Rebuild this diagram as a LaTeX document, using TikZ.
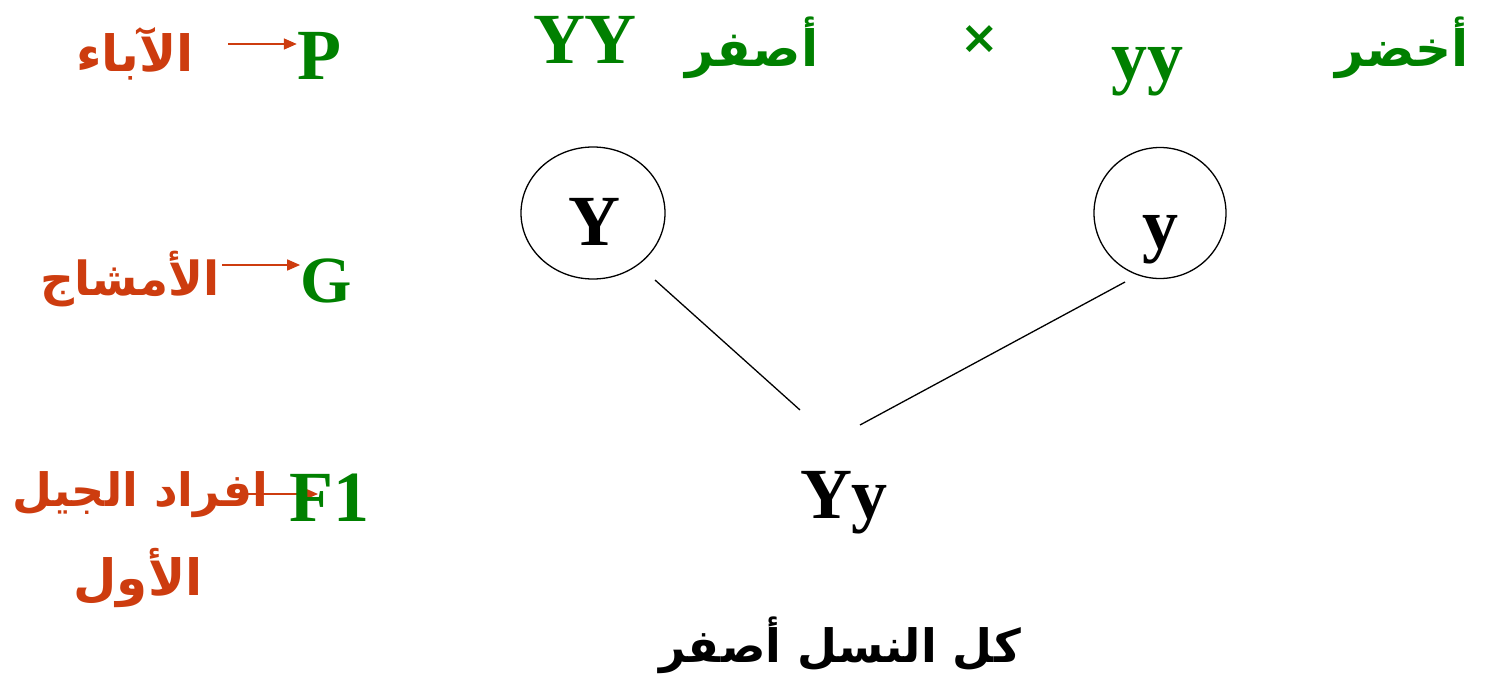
\documentclass[tikz,border=0pt]{standalone}
\usepackage{fontspec}
\setmainfont{Liberation Serif}
\newfontfamily\arabicfont[Script=Arabic]{DejaVu Sans}
\TeXXeTstate=1
\usetikzlibrary{arrows.meta,shapes.geometric}
\definecolor{lblred}{RGB}{205,60,15}
\definecolor{gengreen}{RGB}{0,128,0}
\tikzset{
  latin/.style={font=\fontsize{72}{80}\selectfont\bfseries, inner sep=0pt},
  ar/.style={font=\fontsize{50}{60}\selectfont\arabicfont\bfseries, inner sep=0pt, align=center},
  arsmall/.style={ar, font=\fontsize{47}{60}\selectfont\arabicfont\bfseries},
  redarrow/.style={draw=lblred, line width=1.6pt, -{Triangle[length=13pt,width=11pt]}},
  gamete/.style={ellipse, draw=black, line width=1.3pt, inner sep=0pt},
  link/.style={draw=black, line width=1.3pt}
}
\begin{document}
\begin{tikzpicture}[x=1pt,y=-1pt]
\useasboundingbox (0,0) rectangle (1485,683);
% left labels
\node[latin, text=gengreen] (P) at (319,56) {P};
\node[ar, text=lblred] (parents) at (135,54) {\beginR الآباء\endR};
\coordinate (pa) at (228,44);
\draw[redarrow] (pa) -- (P.west |- pa);

\node[latin, text=gengreen, font=\fontsize{66}{72}\selectfont\bfseries] (G) at (326,281) {G};
\node[arsmall, text=lblred] (gametes) at (130,279) {\beginR الأمشاج\endR};
\coordinate (ga) at (222,265);
\draw[redarrow] (ga) -- (G.west |- ga);

\node[arsmall, font=\fontsize{46}{60}\selectfont\arabicfont\bfseries, text=lblred] (f1a) at (140,495) {\beginR افراد الجيل\endR};
\node[ar, text=lblred] (f1b) at (138,578) {\beginR الأول\endR};
\coordinate (fa) at (245,494);
\coordinate (fb) at (318,494);
\draw[redarrow] (fa) -- (fb);
\node[latin, text=gengreen] (F1) at (329,498) {F1};

% parents row
\node[latin, text=gengreen] (YY) at (585,40) {YY};
\node[ar, text=gengreen] (yellow) at (752,48) {\beginR أصفر\endR};
\node[font=\fontsize{46}{50}\selectfont\arabicfont\bfseries, text=gengreen, inner sep=0pt] (cross) at (980,40) {×};
\node[latin, text=gengreen] (yy) at (1147,72) {yy};
\node[ar, text=gengreen] (green) at (1402,48) {\beginR أخضر\endR};

% gametes
\node[gamete, minimum width=144pt, minimum height=132pt] (cY) at (593,213) {};
\node[latin] (Yg) at (594,222) {Y};
\node[gamete, minimum width=132pt, minimum height=131pt] (cy) at (1160,213) {};
\node[latin] (yg) at (1160,240) {y};

% offspring
\node[latin] (Yy) at (844,503) {Yy};
\coordinate (l1a) at (655,280);
\coordinate (l1b) at (800,410);
\coordinate (l2a) at (1125,282);
\coordinate (l2b) at (860,425);
\draw[link] (l1a) -- (l1b);
\draw[link] (l2a) -- (l2b);

\node[arsmall, font=\fontsize{46}{60}\selectfont\arabicfont\bfseries, text=black] (all) at (840,645) {\beginR كل النسل أصفر\endR};
\end{tikzpicture}
\end{document}
